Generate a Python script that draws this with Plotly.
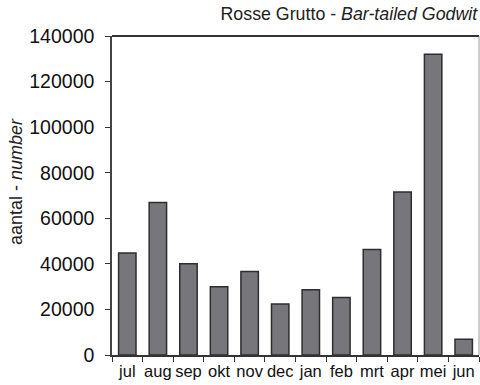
import plotly.graph_objects as go

months = ["jul", "aug", "sep", "okt", "nov", "dec", "jan", "feb", "mrt", "apr", "mei", "jun"]
counts = [44800, 66900, 40000, 30000, 36600, 22400, 28600, 25200, 46300, 71500, 132000, 6900]
y_ticks = [0, 20000, 40000, 60000, 80000, 100000, 120000, 140000]

font = "Liberation Sans, Arial, Helvetica, sans-serif"

fig = go.Figure(
    go.Bar(
        x=months,
        y=counts,
        marker=dict(color="#77777b", line=dict(color="#2e2e2e", width=1.5)),
        width=0.57,
    )
)

fig.update_layout(
    width=480,
    height=385,
    margin=dict(l=112, r=1, t=36, b=30),
    paper_bgcolor="white",
    plot_bgcolor="white",
    showlegend=False,
    font=dict(family=font, color="#111111"),
    title=dict(
        text="Rosse Grutto - <i>Bar-tailed Godwit</i>",
        x=0.995,
        xanchor="right",
        xref="paper",
        y=0.964,
        yanchor="middle",
        font=dict(size=17.8, color="#222222"),
    ),
    xaxis=dict(
        type="category",
        tickson="boundaries",
        ticks="outside",
        ticklen=5,
        tickcolor="#333333",
        tickwidth=1,
        tickangle=0,
        showline=True,
        linecolor="#333333",
        linewidth=1.5,
        showgrid=False,
        tickfont=dict(size=16.5, color="#111111"),
        range=[-0.5, 11.5],
    ),
    yaxis=dict(
        range=[0, 140000],
        tickvals=y_ticks,
        ticktext=[str(v) for v in y_ticks],
        ticks="outside",
        ticklen=5,
        ticklabelstandoff=7,
        tickcolor="#333333",
        showline=True,
        linecolor="#444444",
        linewidth=1.5,
        showgrid=False,
        zeroline=False,
        tickfont=dict(size=19.5, color="#111111"),
    ),
    annotations=[
        dict(
            text="aantal - <i>number</i>",
            textangle=-90,
            xref="paper",
            yref="paper",
            x=-0.262,
            y=0.545,
            xanchor="center",
            yanchor="middle",
            showarrow=False,
            font=dict(size=18, color="#222222"),
        )
    ],
    shapes=[
        dict(type="line", xref="paper", yref="paper", x0=0, x1=1, y0=1, y1=1,
             line=dict(color="#333333", width=2)),
        dict(type="line", xref="paper", yref="paper", x0=1, x1=1, y0=0, y1=1,
             line=dict(color="#999999", width=1)),
    ],
)

fig.write_html("out.html")
